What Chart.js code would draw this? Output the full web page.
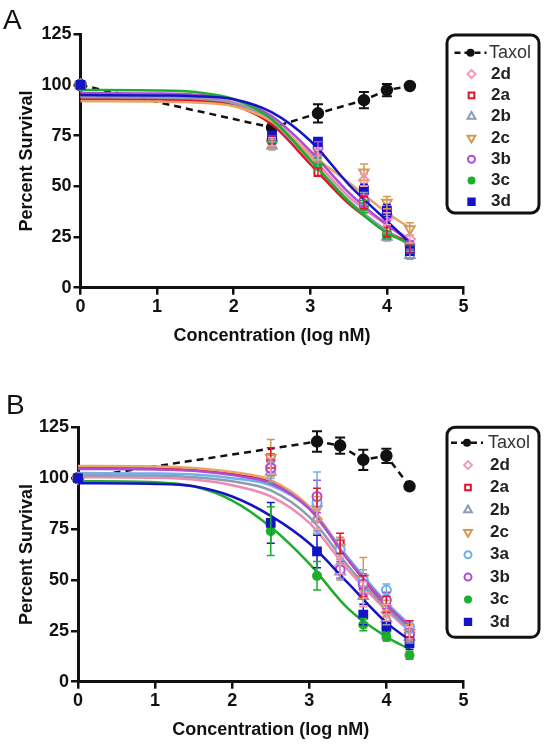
<!DOCTYPE html>
<html>
<head>
<meta charset="utf-8">
<script src="https://cdn.jsdelivr.net/npm/chart.js"></script>
<style>
  html, body { margin: 0; padding: 0; background: #fff; }
  #wrap { position: relative; width: 548px; height: 750px; overflow: hidden; }
  canvas { position: absolute; left: 0; }
  #chartA { top: 0; }
  #chartB { top: 375px; }
</style>
</head>
<body>
<div id="wrap">
  <canvas id="chartA" width="548" height="375"></canvas>
  <canvas id="chartB" width="548" height="375"></canvas>
</div>
<script>
const FONT = "'Liberation Sans', Arial, sans-serif";

// axis ticks
const xTicks = [0, 1, 2, 3, 4, 5];
const yTicks = [0, 25, 50, 75, 100, 125];

// concentrations (log nM)
const xA = [0, 2.5, 3.1, 3.7, 4.0, 4.3];
const xB = [0, 2.5, 3.1, 3.4, 3.7, 4.0, 4.3];
const xTaxolB = [0, 3.1, 3.4, 3.7, 4.0, 4.3];
const fitX = [0, 1, 1.5, 2, 2.5, 3, 3.5, 4, 4.3];

// ---- Panel A : measured % survival ----
const taxolA = [100, 79, 86, 92.5, 97.5, 99.5];
const taxolAErr = [0, 0, 4.5, 4, 3, 0];
const a2d = [100, 72, 66, 53, 34, 24];
const a2a = [100, 73, 57, 42, 28, 19];
const a2b = [100, 70, 62, 44, 25, 16];
const a2c = [100, 71, 65, 57, 42, 29];
const a3b = [100, 73, 69, 43, 36, 21];
const a3c = [100, 72, 61, 40, 26, 20];
const a3d = [100, 75, 72, 48, 38, 18];
const a2dErr = [0, 2, 3, 3, 3, 2];
const a2aErr = [0, 2, 2, 3, 3, 2];
const a2bErr = [0, 2, 3, 3, 2, 2];
const a2cErr = [0, 2, 3, 4, 3, 3];
const a3bErr = [0, 2, 3, 3, 3, 2];
const a3cErr = [0, 2, 3, 3, 2, 2];
const a3dErr = [0, 2, 2, 3, 3, 2];
// Panel A : fitted curves read at fitX
const fitA2d = [94.5, 94.3, 93.8, 91.5, 83, 65, 45, 31, 24];
const fitA2a = [93, 92.8, 92.3, 90, 80.5, 61, 41.5, 28, 22];
const fitA2b = [94, 93.8, 93.3, 91, 82, 63, 43, 28, 21];
const fitA2c = [92, 91.8, 91.3, 89.5, 82, 66, 52, 37, 29.5];
const fitA3b = [96, 95.8, 95.2, 93, 84.5, 67.5, 47, 31, 23];
const fitA3c = [97.5, 97.3, 96.5, 93, 83, 63, 42.5, 27, 22];
const fitA3d = [95, 94.8, 94.5, 93, 86.5, 72.5, 51, 33, 22];

// ---- Panel B : measured % survival ----
const taxolB = [100, 118, 116, 109, 111, 96];
const taxolBErr = [0, 5, 4, 5, 3.5, 0];
const b2d = [100, 106, 80, 57, 43, 34, 24];
const b2a = [100, 110, 90, 68, 47, 38, 26];
const b2b = [100, 103, 80, 54, 42, 31, 22];
const b2c = [100, 110, 85, 66, 51, 36, 24];
const b3a = [100, 104, 88, 65, 50, 45, 27];
const b3b = [100, 105, 91, 55, 48, 40, 23];
const b3c = [100, 74, 52, null, 28, 22, 13];
const b3d = [100, 78, 64, null, 33, 27, 19];
const b2dErr = [0, 4, 5, 4, 6, 4, 3];
const b2aErr = [0, 5, 5, 5, 5, 4, 4];
const b2bErr = [0, 5, 6, 4, 5, 3, 3];
const b2cErr = [0, 9, 6, 5, 10, 4, 4];
const b3aErr = [0, 4, 15, 5, 5, 3, 3];
const b3bErr = [0, 4, 8, 4, 5, 4, 3];
const b3cErr = [0, 12, 7, 0, 3, 2, 2];
const b3dErr = [0, 10, 8, 0, 5, 3, 3];
// Panel B : fitted curves read at fitX
const fitB2d = [100.5, 100.2, 99.3, 96.5, 91, 78, 55, 35, 25];
const fitB2a = [105, 104.8, 104, 102, 98, 85, 60, 37, 26];
const fitB2b = [101.5, 101.3, 100.5, 98.5, 94, 81, 57, 36, 26];
const fitB2c = [106, 105.8, 105, 103, 99, 86, 61, 38, 28];
const fitB3a = [102.5, 102.3, 101.8, 100, 96.5, 85, 61, 39, 28];
const fitB3b = [104.5, 104.3, 103.6, 101.5, 97.5, 85, 60, 38, 27];
const fitB3c = [98.5, 98, 96, 89, 76, 58, 36, 22, 16];
const fitB3d = [97.5, 97.2, 96, 91, 81.5, 68, 48.5, 29, 20.5];

// marker / line styles
const STYLE = {
  '2d': { color: '#f39bb4', line: '#f08ab0', style: 'rectRot', r: 5, fill: false },
  '2a': { color: '#e3132c', style: 'rect', r: 5, fill: false },
  '2b': { color: '#8d9bb3', style: 'triangle', r: 5.5, fill: false },
  '2c': { color: '#d39a55', line: '#e6a668', style: 'triangle', rot: 180, r: 5.5, fill: false },
  '3a': { color: '#6fb0e6', style: 'circle', r: 4.5, fill: false },
  '3b': { color: '#b04cd6', style: 'circle', r: 4.5, fill: false },
  '3c': { color: '#1fae2c', style: 'circle', r: 4, fill: true },
  '3d': { color: '#1414c4', style: 'rect', r: 5.5, fill: true }
};

function pts(xs, ys, errs) {
  const out = [];
  xs.forEach((x, i) => {
    if (ys[i] == null) return;
    out.push({ x: x, y: ys[i], e: errs ? errs[i] : 0 });
  });
  return out;
}

function compoundSets(name, xs, ys, errs, fit) {
  const s = STYLE[name];
  return [
    {
      label: name, data: pts(xs, ys, errs), showLine: false, clip: false,
      pointStyle: s.style, rotation: s.rot || 0, pointRadius: s.r, pointBorderWidth: 2,
      borderColor: s.color, backgroundColor: s.fill ? s.color : '#fff', errColor: s.color
    },
    {
      label: name + ' fit', data: pts(fitX, fit), showLine: true, clip: false,
      pointRadius: 0, borderColor: s.line || s.color, borderWidth: 2.5,
      cubicInterpolationMode: 'monotone'
    }
  ];
}

function taxolSet(xs, ys, errs) {
  return {
    label: 'Taxol', data: pts(xs, ys, errs), showLine: true, clip: false,
    borderColor: '#111', borderWidth: 2.5, borderDash: [7, 5], tension: 0,
    pointRadius: 5, pointBackgroundColor: '#111', pointBorderColor: '#111', errColor: '#111'
  };
}

// error bars through the chart's scales
const errorBars = {
  id: 'errorBars',
  afterDatasetsDraw(chart) {
    const ctx = chart.ctx, xs = chart.scales.x, ys = chart.scales.y;
    chart.data.datasets.forEach(ds => {
      if (!ds.errColor) return;
      ctx.save();
      ctx.strokeStyle = ds.errColor;
      ctx.lineWidth = ds.label === 'Taxol' ? 2 : 1.5;
      const cap = ds.label === 'Taxol' ? 5 : 4;
      ds.data.forEach(p => {
        if (!p.e) return;
        const px = xs.getPixelForValue(p.x);
        const t = ys.getPixelForValue(p.y + p.e);
        const b = ys.getPixelForValue(p.y - p.e);
        ctx.beginPath();
        ctx.moveTo(px, t); ctx.lineTo(px, b);
        ctx.moveTo(px - cap, t); ctx.lineTo(px + cap, t);
        ctx.moveTo(px - cap, b); ctx.lineTo(px + cap, b);
        ctx.stroke();
      });
      ctx.restore();
    });
  }
};

function roundRect(ctx, x, y, w, h, r) {
  ctx.beginPath();
  ctx.moveTo(x + r, y);
  ctx.arcTo(x + w, y, x + w, y + h, r);
  ctx.arcTo(x + w, y + h, x, y + h, r);
  ctx.arcTo(x, y + h, x, y, r);
  ctx.arcTo(x, y, x + w, y, r);
  ctx.closePath();
}

function legendPlugin(cfg) {
  return {
    id: 'panelLegend',
    afterDraw(chart) {
      const ctx = chart.ctx;
      ctx.save();
      // panel letter
      ctx.fillStyle = '#111';
      ctx.font = '28px ' + FONT;
      ctx.textBaseline = 'alphabetic';
      ctx.fillText(cfg.letter, cfg.letterX, cfg.letterY);
      // box
      const b = cfg.box;
      ctx.lineWidth = 3;
      ctx.strokeStyle = '#111';
      roundRect(ctx, b.x, b.y, b.w, b.h, 8);
      ctx.stroke();
      ctx.textBaseline = 'middle';
      cfg.items.forEach((name, i) => {
        const y = cfg.row0 + i * cfg.rowGap;
        if (name === 'Taxol') {
          ctx.save();
          ctx.strokeStyle = '#111';
          ctx.lineWidth = 2.5;
          ctx.setLineDash([6, 4]);
          ctx.beginPath();
          ctx.moveTo(cfg.markX - 17, y); ctx.lineTo(cfg.markX + 15, y);
          ctx.stroke();
          ctx.restore();
          ctx.fillStyle = '#111';
          ctx.beginPath(); ctx.arc(cfg.markX - 1, y, 4, 0, Math.PI * 2); ctx.fill();
          ctx.fillStyle = '#333';
          ctx.font = '18px ' + FONT;
          ctx.fillText('Taxol', cfg.textX - 2, y);
        } else {
          const s = STYLE[name];
          ctx.save();
          ctx.strokeStyle = s.color;
          ctx.fillStyle = s.fill ? s.color : '#fff';
          ctx.lineWidth = 2;
          Chart.helpers.drawPoint(ctx, { pointStyle: s.style, rotation: s.rot || 0, radius: s.r - 1, borderWidth: 2 }, cfg.markX, y);
          ctx.restore();
          ctx.fillStyle = '#222';
          ctx.font = 'bold 17px ' + FONT;
          ctx.fillText(name, cfg.textX, y);
        }
      });
      ctx.restore();
    }
  };
}

function axisCommon() {
  return {
    type: 'linear',
    ticks: { color: '#111', font: { family: FONT, size: 18, weight: 'bold' }, padding: 2 },
    grid: { drawOnChartArea: false, drawTicks: true, tickLength: 7, color: '#111', lineWidth: 2.5 },
    border: { display: true, color: '#111', width: 3 }
  };
}

function makePanel(id, datasets, cfg) {
  const xAxis = axisCommon();
  Object.assign(xAxis, {
    position: 'bottom', min: 0, max: 5,
    afterBuildTicks: s => { s.ticks = xTicks.map(v => ({ value: v })); },
    afterFit: s => { s.height = cfg.xBottom - cfg.bottom; },
    title: { display: true, text: 'Concentration (log nM)', color: '#111',
             font: { family: FONT, size: 18, weight: 'bold' }, padding: 0 }
  });
  const yAxis = axisCommon();
  Object.assign(yAxis, {
    position: 'left', min: 0, max: 125,
    afterBuildTicks: s => { s.ticks = yTicks.map(v => ({ value: v })); },
    afterFit: s => { s.width = cfg.left; },
    title: { display: true, text: 'Percent Survival', color: '#111',
             font: { family: FONT, size: 18, weight: 'bold' }, padding: { top: 16, bottom: 0 } }
  });
  return new Chart(document.getElementById(id), {
    type: 'scatter',
    data: { datasets: datasets },
    options: {
      responsive: false,
      animation: false,
      layout: { padding: { left: 0, right: 548 - cfg.right, top: cfg.top, bottom: 375 - cfg.xBottom } },
      plugins: { legend: { display: false }, tooltip: { enabled: false } },
      scales: { x: xAxis, y: yAxis }
    },
    plugins: [errorBars, legendPlugin(cfg)]
  });
}

// Panel A
const setsA = [].concat(
  compoundSets('3d', xA, a3d, a3dErr, fitA3d),
  compoundSets('3c', xA, a3c, a3cErr, fitA3c),
  compoundSets('3b', xA, a3b, a3bErr, fitA3b),
  compoundSets('2c', xA, a2c, a2cErr, fitA2c),
  compoundSets('2b', xA, a2b, a2bErr, fitA2b),
  compoundSets('2a', xA, a2a, a2aErr, fitA2a),
  compoundSets('2d', xA, a2d, a2dErr, fitA2d),
  [taxolSet(xA, taxolA, taxolAErr)]
);
makePanel('chartA', setsA, {
  left: 80.5, right: 463.5, top: 34.3, bottom: 287.7, xBottom: 347,
  letter: 'A', letterX: 3, letterY: 28.5,
  box: { x: 447, y: 35, w: 92, h: 178 },
  items: ['Taxol', '2d', '2a', '2b', '2c', '3b', '3c', '3d'],
  row0: 52.7, rowGap: 21.3, markX: 471.5, textX: 491
});

// Panel B
const setsB = [].concat(
  compoundSets('3d', xB, b3d, b3dErr, fitB3d),
  compoundSets('3c', xB, b3c, b3cErr, fitB3c),
  compoundSets('3b', xB, b3b, b3bErr, fitB3b),
  compoundSets('3a', xB, b3a, b3aErr, fitB3a),
  compoundSets('2c', xB, b2c, b2cErr, fitB2c),
  compoundSets('2b', xB, b2b, b2bErr, fitB2b),
  compoundSets('2a', xB, b2a, b2aErr, fitB2a),
  compoundSets('2d', xB, b2d, b2dErr, fitB2d),
  [taxolSet(xTaxolB, taxolB, taxolBErr)]
);
makePanel('chartB', setsB, {
  left: 78, right: 463.5, top: 52.3, bottom: 306.7, xBottom: 366,
  letter: 'B', letterX: 6, letterY: 38.5,
  box: { x: 447, y: 52.3, w: 92, h: 210 },
  items: ['Taxol', '2d', '2a', '2b', '2c', '3a', '3b', '3c', '3d'],
  row0: 67.7, rowGap: 22.4, markX: 468, textX: 490
});
</script>
</body>
</html>
